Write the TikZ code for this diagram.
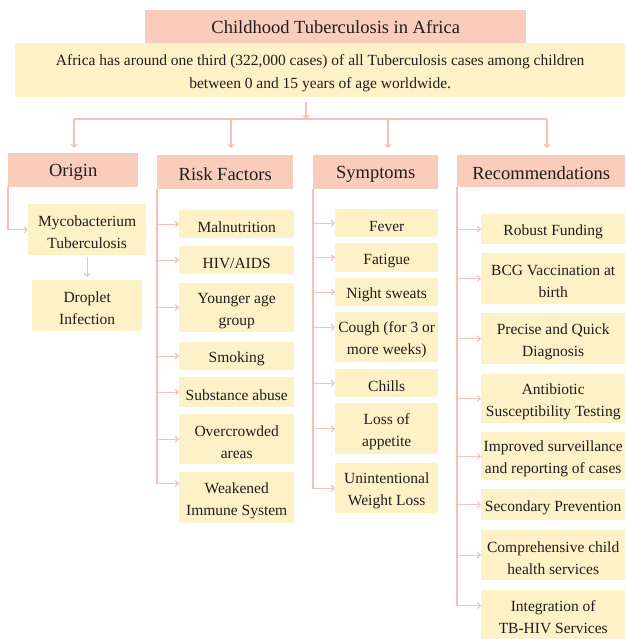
\documentclass[tikz,border=0pt]{standalone}
\usepackage{fontspec}
\setmainfont{Liberation Serif}
\usetikzlibrary{arrows.meta}
\definecolor{pinkc}{RGB}{249,204,188}
\definecolor{yelc}{RGB}{253,241,199}
\definecolor{linec}{RGB}{246,192,178}
\definecolor{txtc}{RGB}{30,30,30}
\newcommand{\tstrut}{\rule{0pt}{16pt}}
\tikzset{
  hdr/.style={fill=pinkc, draw=none, inner sep=0pt, anchor=north west, text=txtc, font=\fontsize{18.5}{22}\selectfont},
  ybox/.style={fill=yelc, draw=none, inner sep=0pt, anchor=north west, align=center, text=txtc, font=\fontsize{15.5}{22}\selectfont},
  conn/.style={draw=linec, line width=1.1pt, -{Straight Barb[length=3pt,width=6pt]}},
  plain/.style={draw=linec, line width=1.1pt}
}
\begin{document}
\begin{tikzpicture}[x=1pt,y=-1pt]
\useasboundingbox[fill=white] (0,0) rectangle (625,639);
% title and summary
\node[hdr, minimum width=381pt, minimum height=33pt] (title) at (145,10) {Childhood Tuberculosis in Africa};
\node[ybox, minimum width=610pt, minimum height=54pt, font=\fontsize{15.5}{23}\selectfont] (sum) at (15,43)
  {\tstrut Africa has around one third (322,000 cases) of all Tuberculosis cases among children\\between 0 and 15 years of age worldwide.};
% headers
\node[hdr, minimum width=130pt, minimum height=34pt] (oh) at (8,153) {\rule{0pt}{17pt}Origin};
\node[hdr, minimum width=136pt, minimum height=34pt] (rfh) at (157,155) {\rule{0pt}{17pt}Risk Factors};
\node[hdr, minimum width=125pt, minimum height=34pt] (syh) at (313,155) {\rule{0pt}{17pt}Symptoms};
\node[hdr, minimum width=168pt, minimum height=32pt] (rch) at (457,155) {\rule{0pt}{17pt}Recommendations};
% origin
\node[ybox, minimum width=118pt, minimum height=51pt] (myco) at (28,204) {\tstrut Mycobacterium\\Tuberculosis};
\node[ybox, minimum width=110pt, minimum height=51pt] (drop) at (32,280) {\tstrut Droplet\\Infection};
% risk factors
\node[ybox, minimum width=115pt, minimum height=28pt] (mal) at (179,210) {\tstrut Malnutrition};
\node[ybox, minimum width=115pt, minimum height=28pt] (hiv) at (179,246) {\tstrut HIV/AIDS};
\node[ybox, minimum width=115pt, minimum height=49pt] (young) at (179,283) {\tstrut Younger age\\group};
\node[ybox, minimum width=115pt, minimum height=28pt] (smok) at (179,342) {\tstrut Smoking};
\node[ybox, minimum width=115pt, minimum height=30pt] (subs) at (179,377) {\tstrut Substance abuse};
\node[ybox, minimum width=115pt, minimum height=50pt] (over) at (179,414) {\tstrut Overcrowded\\areas};
\node[ybox, minimum width=115pt, minimum height=51pt] (weak) at (179,472) {\tstrut Weakened\\Immune System};
% symptoms
\node[ybox, minimum width=103pt, minimum height=28pt] (fev) at (335,209) {\tstrut Fever};
\node[ybox, minimum width=103pt, minimum height=29pt] (fat) at (335,243) {\tstrut Fatigue};
\node[ybox, minimum width=103pt, minimum height=28pt] (night) at (335,278) {\tstrut Night sweats};
\node[ybox, minimum width=103pt, minimum height=50pt] (cough) at (335,312) {\tstrut Cough (for 3 or\\more weeks)};
\node[ybox, minimum width=103pt, minimum height=28pt] (chill) at (335,369) {\tstrut Chills};
\node[ybox, minimum width=103pt, minimum height=51pt] (loss) at (335,403) {\tstrut Loss of\\appetite};
\node[ybox, minimum width=103pt, minimum height=50pt] (unin) at (335,463) {\tstrut Unintentional\\Weight Loss};
% recommendations
\node[ybox, minimum width=144pt, minimum height=30pt] (rob) at (481,214) {\tstrut Robust Funding};
\node[ybox, minimum width=144pt, minimum height=51pt] (bcg) at (481,253) {\tstrut BCG Vaccination at\\birth};
\node[ybox, minimum width=144pt, minimum height=51pt] (prec) at (481,313) {\tstrut Precise and Quick\\Diagnosis};
\node[ybox, minimum width=144pt, minimum height=49pt] (anti) at (481,374) {\tstrut Antibiotic\\Susceptibility Testing};
\node[ybox, minimum width=144pt, minimum height=48pt] (impr) at (481,432) {\tstrut Improved surveillance\\and reporting of cases};
\node[ybox, minimum width=144pt, minimum height=31pt] (sec) at (481,489) {\tstrut Secondary Prevention};
\node[ybox, minimum width=144pt, minimum height=50pt] (comp) at (481,530) {\tstrut Comprehensive child\\health services};
\node[ybox, minimum width=144pt, minimum height=49pt] (integ) at (481,590) {\tstrut Integration of\\TB-HIV Services};
% top connectors
\coordinate (hub) at (306,119);
\path (hub |- sum.south) ++(0,5) coordinate (hubtop);
\draw[conn] (hubtop) -- (hub);
\coordinate (t1) at (74,119);
\coordinate (t2) at (231,119);
\coordinate (t3) at (388,119);
\coordinate (t4) at (547,119);
\draw[plain] (t1) -- (t4);
\draw[conn, shorten >=5pt] (t1) -- (t1 |- oh.north);
\draw[conn, shorten >=7pt] (t2) -- (t2 |- rfh.north);
\draw[conn, shorten >=7pt] (t3) -- (t3 |- syh.north);
\draw[conn, shorten >=7pt] (t4) -- (t4 |- rch.north);
% origin connectors
\draw[conn] (oh.south west) |- (myco.west);
\draw[conn, shorten <=2pt, shorten >=3pt] (myco.south) -- (drop.north);
% risk factor connectors
\foreach \b in {mal,hiv,young,smok,subs,over}
  \draw[conn] (rfh.south west) |- (\b.west);
\draw[conn] (rfh.south west) |- ([yshift=14pt]weak.west);
% symptom connectors
\foreach \b in {fev,fat,night,chill,loss,unin}
  \draw[conn] (syh.south west) |- (\b.west);
\draw[conn] (syh.south west) |- ([yshift=10pt]cough.west);
% recommendation connectors
\foreach \b in {rob,bcg,prec,anti,impr,sec,comp}
  \draw[conn] (rch.south west) |- (\b.west);
\draw[conn] (rch.south west) |- ([yshift=9pt]integ.west);
\end{tikzpicture}
\end{document}
